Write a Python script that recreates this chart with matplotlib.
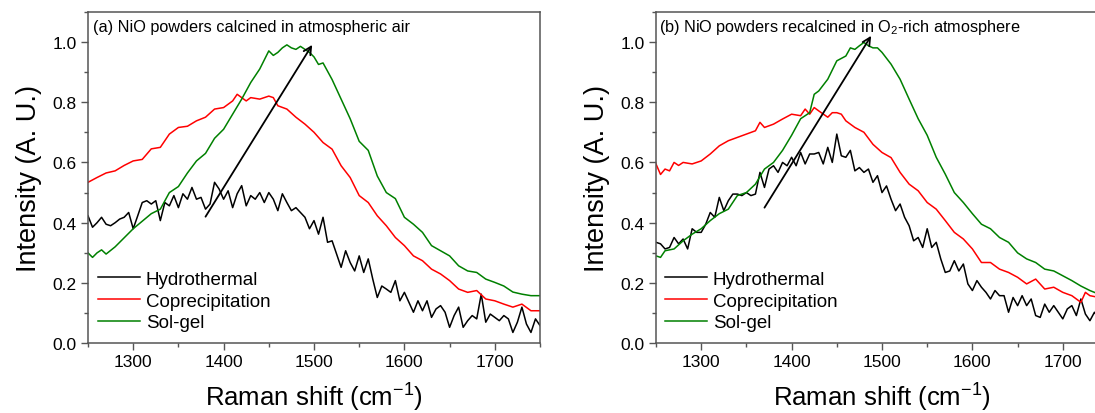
import numpy as np
import matplotlib
matplotlib.use("Agg")
import matplotlib.pyplot as plt
from matplotlib.ticker import MultipleLocator

plt.rcParams['font.family'] = ['Liberation Sans', 'DejaVu Sans']
plt.rcParams['mathtext.default'] = 'regular'

# ---------------- data ----------------
x5 = list(range(1250, 1751, 5))

# Panel (a)
a_sol_x = [1250, 1255, 1260, 1265, 1270, 1280, 1290, 1300, 1310, 1320, 1330, 1340, 1350, 1360, 1370,
           1380, 1390, 1400, 1410, 1420, 1430, 1440, 1450, 1455, 1460, 1465, 1470, 1475, 1480, 1485,
           1490, 1495, 1500, 1505, 1510, 1520, 1530, 1540, 1550, 1560, 1570, 1580, 1590, 1600, 1610,
           1620, 1630, 1640, 1650, 1660, 1670, 1680, 1690, 1700, 1710, 1720, 1730, 1740, 1750]
a_sol_y = [0.30, 0.285, 0.30, 0.31, 0.296, 0.32, 0.35, 0.38, 0.405, 0.43, 0.445, 0.50, 0.52, 0.565, 0.605,
           0.63, 0.68, 0.71, 0.76, 0.81, 0.865, 0.91, 0.97, 0.955, 0.965, 0.98, 0.99, 0.98, 0.975, 0.985,
           0.975, 0.965, 0.95, 0.925, 0.93, 0.875, 0.81, 0.745, 0.67, 0.64, 0.555, 0.50, 0.48, 0.418, 0.395,
           0.368, 0.324, 0.307, 0.29, 0.257, 0.24, 0.235, 0.213, 0.202, 0.19, 0.17, 0.163, 0.158, 0.158]

a_cop_x = [1250, 1260, 1270, 1280, 1290, 1300, 1310, 1320, 1330, 1340, 1350, 1360, 1370, 1380, 1390,
           1400, 1410, 1415, 1420, 1425, 1430, 1440, 1450, 1455, 1460, 1470, 1480, 1490, 1500, 1510,
           1520, 1530, 1540, 1550, 1560, 1570, 1580, 1590, 1600, 1610, 1620, 1630, 1640, 1650, 1660,
           1670, 1680, 1690, 1700, 1710, 1720, 1730, 1740, 1750]
a_cop_y = [0.534, 0.55, 0.565, 0.572, 0.59, 0.605, 0.61, 0.645, 0.65, 0.694, 0.716, 0.72, 0.738, 0.75, 0.777,
           0.782, 0.804, 0.826, 0.815, 0.804, 0.815, 0.81, 0.82, 0.815, 0.788, 0.777, 0.75, 0.727, 0.70, 0.666,
           0.644, 0.589, 0.55, 0.49, 0.467, 0.423, 0.39, 0.351, 0.324, 0.29, 0.274, 0.246, 0.23, 0.208, 0.18,
           0.169, 0.175, 0.147, 0.141, 0.13, 0.12, 0.13, 0.108, 0.108]

a_hyd_y = [0.423, 0.385, 0.40, 0.418, 0.395, 0.39, 0.40, 0.412, 0.418, 0.434, 0.38, 0.423, 0.467, 0.473,
           0.462, 0.473, 0.407, 0.467, 0.456, 0.49, 0.45, 0.496, 0.478, 0.517, 0.478, 0.484, 0.445, 0.462,
           0.534, 0.512, 0.478, 0.506, 0.45, 0.496, 0.523, 0.456, 0.49, 0.478, 0.50, 0.467, 0.50, 0.478,
           0.44, 0.496, 0.467, 0.44, 0.45, 0.434, 0.418, 0.38, 0.407, 0.362, 0.418, 0.335, 0.34, 0.296,
           0.252, 0.307, 0.268, 0.24, 0.29, 0.235, 0.28, 0.213, 0.152, 0.19, 0.18, 0.169, 0.208, 0.141,
           0.169, 0.136, 0.103, 0.141, 0.108, 0.141, 0.086, 0.114, 0.125, 0.103, 0.053, 0.092, 0.12, 0.053,
           0.075, 0.092, 0.081, 0.163, 0.07, 0.097, 0.086, 0.075, 0.092, 0.081, 0.036, 0.07, 0.12, 0.064,
           0.036, 0.081, 0.059]

# Panel (b)
b_sol_x = [1250, 1255, 1260, 1270, 1280, 1290, 1300, 1310, 1320, 1330, 1340, 1350, 1360, 1370, 1380,
           1390, 1400, 1410, 1420, 1425, 1430, 1440, 1450, 1460, 1465, 1470, 1475, 1480, 1485, 1490,
           1495, 1500, 1510, 1520, 1530, 1540, 1550, 1560, 1570, 1580, 1590, 1600, 1610, 1620, 1630,
           1640, 1650, 1660, 1670, 1680, 1690, 1700, 1710, 1720, 1730, 1740, 1750]
b_sol_y = [0.29, 0.285, 0.307, 0.313, 0.34, 0.362, 0.38, 0.407, 0.43, 0.445, 0.49, 0.50, 0.528, 0.578, 0.60,
           0.64, 0.69, 0.745, 0.765, 0.826, 0.837, 0.876, 0.937, 0.953, 0.98, 0.975, 0.987, 0.998, 0.987, 0.98,
           0.98, 0.965, 0.926, 0.876, 0.81, 0.745, 0.69, 0.617, 0.561, 0.50, 0.467, 0.43, 0.395, 0.38, 0.351,
           0.335, 0.30, 0.28, 0.268, 0.246, 0.24, 0.224, 0.208, 0.19, 0.175, 0.163, 0.158]

b_cop_x = [1250, 1255, 1260, 1265, 1270, 1275, 1280, 1290, 1300, 1310, 1320, 1330, 1340, 1350, 1360,
           1365, 1370, 1380, 1390, 1400, 1410, 1415, 1420, 1425, 1430, 1440, 1445, 1450, 1455, 1460,
           1470, 1480, 1490, 1500, 1510, 1520, 1530, 1540, 1550, 1560, 1570, 1580, 1590, 1600, 1610,
           1620, 1630, 1640, 1650, 1660, 1670, 1680, 1690, 1700, 1710, 1720, 1725, 1730, 1740, 1750]
b_cop_y = [0.595, 0.56, 0.578, 0.572, 0.60, 0.59, 0.60, 0.595, 0.605, 0.628, 0.655, 0.672, 0.683, 0.694, 0.705,
           0.733, 0.716, 0.727, 0.744, 0.76, 0.755, 0.777, 0.76, 0.782, 0.771, 0.75, 0.765, 0.765, 0.76, 0.738,
           0.716, 0.70, 0.66, 0.633, 0.616, 0.567, 0.528, 0.506, 0.467, 0.445, 0.407, 0.368, 0.346, 0.313, 0.268,
           0.268, 0.246, 0.235, 0.219, 0.197, 0.213, 0.18, 0.186, 0.169, 0.158, 0.136, 0.169, 0.158, 0.152, 0.15]

b_hyd_y = [0.335, 0.33, 0.313, 0.318, 0.351, 0.33, 0.346, 0.313, 0.38, 0.368, 0.368, 0.395, 0.434, 0.418,
           0.484, 0.44, 0.473, 0.495, 0.495, 0.49, 0.50, 0.49, 0.495, 0.567, 0.517, 0.578, 0.589, 0.567,
           0.60, 0.589, 0.617, 0.589, 0.633, 0.595, 0.628, 0.628, 0.633, 0.595, 0.65, 0.60, 0.694, 0.622,
           0.617, 0.64, 0.572, 0.583, 0.567, 0.578, 0.534, 0.556, 0.50, 0.522, 0.478, 0.44, 0.462, 0.418,
           0.39, 0.34, 0.351, 0.318, 0.38, 0.318, 0.335, 0.28, 0.235, 0.24, 0.274, 0.24, 0.263, 0.197,
           0.175, 0.208, 0.186, 0.169, 0.147, 0.175, 0.158, 0.158, 0.103, 0.152, 0.125, 0.158, 0.125, 0.147,
           0.092, 0.086, 0.13, 0.103, 0.125, 0.103, 0.081, 0.114, 0.125, 0.092, 0.147, 0.097, 0.075, 0.103,
           0.081, 0.075, 0.07]

labels = ["Hydrothermal", "Coprecipitation", "Sol-gel"]
colors = ["black", "#ff0000", "#008000"]
titles = ["(a) NiO powders calcined in atmospheric air",
          "(b) NiO powders recalcined in O$_2$-rich atmosphere"]
arrows = [((1380, 0.42), (1498, 0.99)), ((1370, 0.45), (1488, 1.02))]
xticks = [1300, 1400, 1500, 1600, 1700]
yticks = [0.0, 0.2, 0.4, 0.6, 0.8, 1.0]

# ---------------- figure ----------------
W, H = 1095, 414
fig = plt.figure(figsize=(W / 100, H / 100), dpi=100)

def px_axes(left, top, right, bottom):
    return fig.add_axes([left / W, 1 - bottom / H, (right - left) / W, (bottom - top) / H])

axA = px_axes(88, 12.7, 540, 344.3)
axB = px_axes(656, 12.7, 1108, 344.3)

panels = [
    (axA, [(x5, a_hyd_y), (a_cop_x, a_cop_y), (a_sol_x, a_sol_y)], 0.022, 0.011),
    (axB, [(x5, b_hyd_y), (b_cop_x, b_cop_y), (b_sol_x, b_sol_y)], 0.020, 0.007),
]

spine_col = "#555555"
for i, (ax, series, legx, tx) in enumerate(panels):
    for (xs, ys), lab, c in zip(series, labels, colors):
        ax.plot(xs, ys, color=c, lw=1.1, label=lab)
    ax.set_xlim(1250, 1750)
    ax.set_ylim(0, 1.1)
    ax.set_xticks(xticks)
    ax.set_yticks(yticks)
    ax.set_yticklabels([f"{v:.1f}" for v in yticks])
    ax.xaxis.set_minor_locator(MultipleLocator(50))
    ax.yaxis.set_minor_locator(MultipleLocator(0.1))
    ax.tick_params(which='major', direction='out', length=5, width=1, color=spine_col,
                   labelsize=12.5, pad=3)
    ax.tick_params(which='minor', direction='out', length=3, width=1, color=spine_col)
    for s in ax.spines.values():
        s.set_color(spine_col)
        s.set_linewidth(1.1)
    ax.set_xlabel("Raman shift (cm$^{-1}$)", fontsize=18.5, labelpad=8)
    ax.set_ylabel("Intensity (A. U.)", fontsize=19.5, labelpad=8)
    ax.text(tx, 0.942, titles[i], transform=ax.transAxes,
            fontsize=11.7, va='baseline', ha='left')
    (x0, y0), (x1, y1) = arrows[i]
    ax.annotate("", xy=(x1, y1), xytext=(x0, y0),
                arrowprops=dict(arrowstyle='->', lw=1.3, color='black',
                                mutation_scale=14, shrinkA=0, shrinkB=0))
    ax.legend(loc='upper left', bbox_to_anchor=(legx, 0.219), frameon=False,
              fontsize=13.5, handlelength=2.25, handletextpad=0.3,
              labelspacing=0.25, borderpad=0, borderaxespad=0)

fig.savefig("out.png", dpi=100)
